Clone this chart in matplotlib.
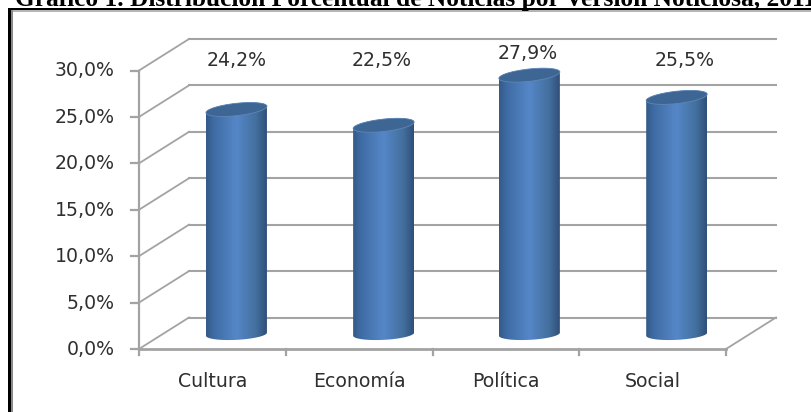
import numpy as np
import matplotlib
matplotlib.use("Agg")
import matplotlib.pyplot as plt
from matplotlib.colors import LinearSegmentedColormap
from matplotlib.patches import Polygon, Rectangle

categories = ["Cultura", "Economía", "Política", "Social"]
values = [24.2, 22.5, 27.9, 25.5]
value_labels = ["24,2%", "22,5%", "27,9%", "25,5%"]
y_ticks = [0, 5, 10, 15, 20, 25, 30]
y_labels = ["0,0%", "5,0%", "10,0%", "15,0%", "20,0%", "25,0%", "30,0%"]
title = "Gráfico 1. Distribución Porcentual de Noticias por Versión Noticiosa, 2011"

W, H = 811, 412
fig = plt.figure(figsize=(W / 100, H / 100), dpi=100, facecolor="white")
# Axes covers the front plane of the 3D chart
L, R, T, B = 139, 726, 70.5, 349
ax = fig.add_axes([L / W, 1 - B / H, (R - L) / W, (B - T) / H])
ax.set_xlim(0, 4)
ax.set_ylim(0, 30)
ax.axis("off")
px = (R - L) / 4          # pixels per category
py = (B - T) / 30         # pixels per percent
dx = 50 / px              # depth offset in data units
dy = 31.5 / py

GRID = "#a3a3a3"
TXT = "#2f2f2f"
FONT = "DejaVu Sans"
kw = dict(clip_on=False)

# Gridlines: side wall and back wall
for t, lab in zip(y_ticks, y_labels):
    ax.plot([0, dx], [t, t + dy], color=GRID, lw=1.3, **kw)
    ax.plot([dx, 4 + dx], [t + dy, t + dy], color=GRID, lw=1.5, **kw)
    ax.plot([-8 / px, 0], [t, t], color=GRID, lw=1.6, **kw)
    ax.text(-24 / px, t - 0.05, lab, ha="right", va="center",
            fontsize=13.6, color=TXT, family=FONT, **kw)
# Floor right edge and axes
ax.plot([4, 4 + dx], [0, dy], color=GRID, lw=1.3, **kw)
ax.plot([0, 0], [0, 30], color=GRID, lw=1.6, **kw)
ax.plot([0, 4], [0, 0], color=GRID, lw=2.0, **kw)
for i in range(5):
    ax.plot([i, i], [0, -6 / py], color=GRID, lw=1.6, **kw)

# Cylinders
cmap = LinearSegmentedColormap.from_list(
    "cyl", [(0, "#335a87"), (0.12, "#3f6ba3"), (0.5, "#5587c8"), (0.82, "#44709f"), (1, "#2f5079")])
cap_col = "#3e6694"
base = 1.6           # floor position of cylinder base, percent units
half_w = 30.5 / px
grad = np.linspace(0, 1, 128).reshape(1, -1)

# Label placement (style, not data): horizontal offset from the bar, height on the chart
label_dx = [0, -2 / px, -2 / px, 8 / px]
label_y = [31.1, 31.1, 31.85, 31.1]
bar_shift = [0, 0.003, -0.004, 0]

def ellipse(cx, cy, start, stop, semi_h, tilt):
    a = np.linspace(start, stop, 60)
    ex = np.cos(a) * half_w
    ey = np.sin(a) * semi_h / py + (ex * px * tilt) / py
    return cx + ex, cy + ey

for i, (v, lab) in enumerate(zip(values, value_labels)):
    cx = i + 0.664 + bar_shift[i]
    top = base + v
    xb, yb = ellipse(cx, base, np.pi, 2 * np.pi, 5.7, 0.05)
    xt, yt = ellipse(cx, top, 0, np.pi, 6.2, 0.105)
    body = Polygon(np.column_stack([np.r_[xb, xt], np.r_[yb, yt]]), closed=True,
                   transform=ax.transData, fc="none", ec="none", clip_on=False)
    ax.add_patch(body)
    im = ax.imshow(grad, cmap=cmap, extent=[cx - half_w, cx + half_w, 0, 32],
                   aspect="auto", zorder=3, interpolation="bilinear")
    im.set_clip_path(body)
    xc, yc = ellipse(cx, top, 0, 2 * np.pi, 6.2, 0.105)
    ax.add_patch(Polygon(np.column_stack([xc, yc]), closed=True, fc=cap_col, ec="#5f86b5",
                         lw=0.6, zorder=4, clip_on=False))
    ax.text(cx + label_dx[i], label_y[i], lab, ha="center", va="center", fontsize=13.6,
            color=TXT, family=FONT, zorder=5, **kw)
    ax.text(i + 0.5, -3.55, categories[i], ha="center", va="center", fontsize=13.6,
            color=TXT, family=FONT, **kw)

ax.set_xlim(0, 4)
ax.set_ylim(0, 30)

# Frame of the pasted picture, in figure pixels
frame = fig.add_axes([0, 0, 1, 1], facecolor="none")
frame.set_xlim(0, W)
frame.set_ylim(H, 0)
frame.axis("off")
frame.add_patch(Rectangle((8, 8), W - 8, 2.4, fc="black", ec="none"))
frame.add_patch(Rectangle((8, 8), 2.6, H - 8, fc="black", ec="none"))
frame.add_patch(Rectangle((11, 10.4), W - 11, 1.4, fc="#b5b5b5", ec="none"))
frame.add_patch(Rectangle((11, 10.4), 2.4, H - 10, fc="#8a8a8a", ec="none"))
frame.text(15, 5.5, title, ha="left", va="baseline", fontsize=18.3, fontweight="bold",
           family="Liberation Serif", color="black", clip_on=True)

fig.savefig("out.png", dpi=100)
